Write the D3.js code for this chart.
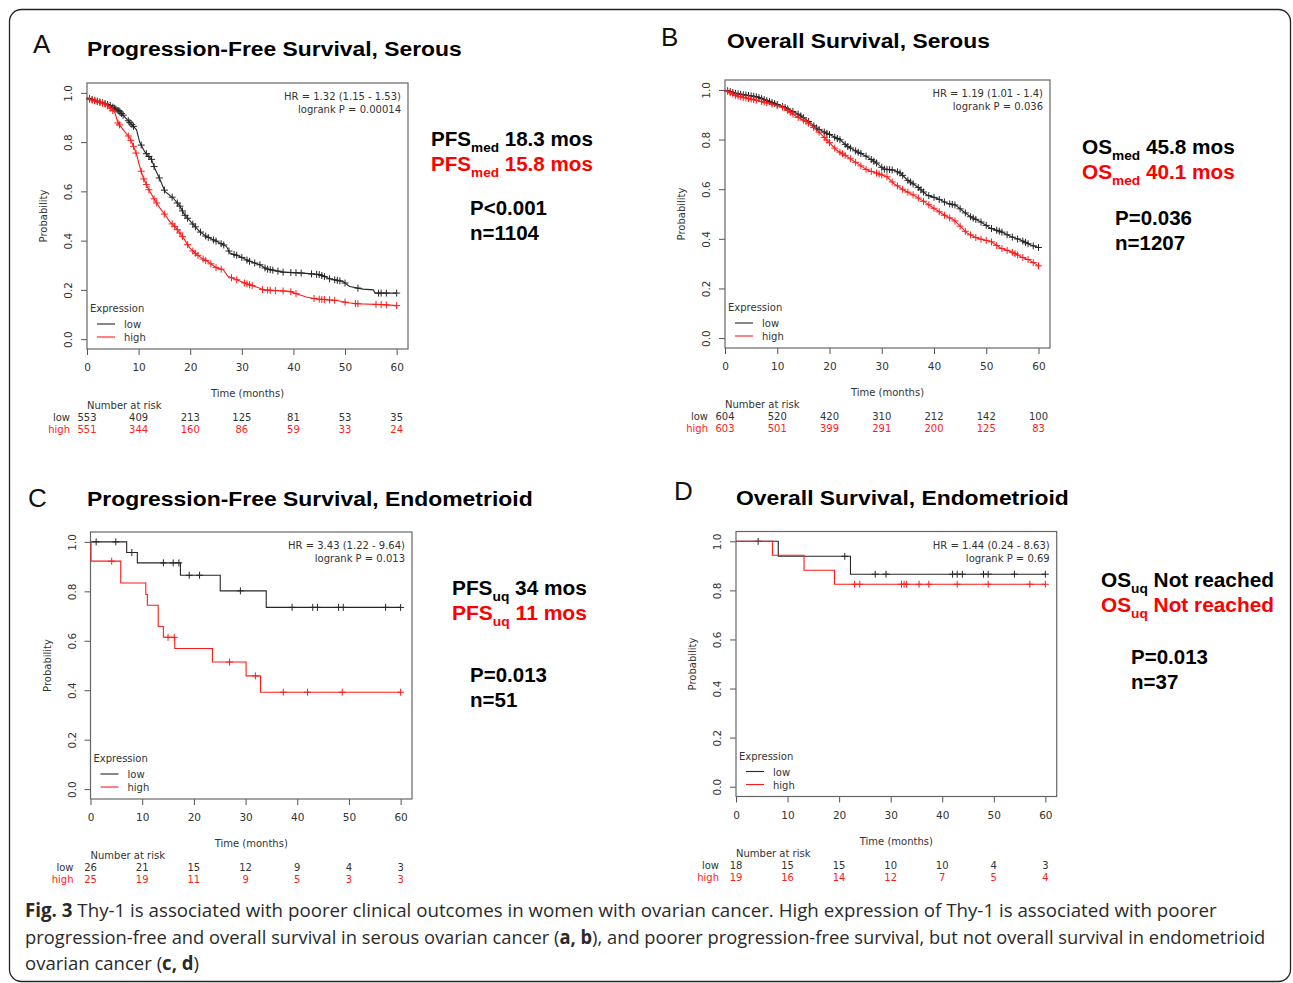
<!DOCTYPE html>
<html>
<head>
<meta charset="utf-8">
<script src="https://cdn.jsdelivr.net/npm/d3@7"></script>
<style>
  body { margin: 0; background: #fff; }
  svg { display: block; }
</style>
</head>
<body>
<svg id="fig"></svg>
<script>
// ---- data ----
const timeTicks = [0, 10, 20, 30, 40, 50, 60];
const probTicks = [0, 0.2, 0.4, 0.6, 0.8, 1.0];

// A: progression-free survival, serous  [months, probability]
const pfsSerousLow = [[0,0.98],[4.4,0.95],[6.3,0.925],[8.3,0.88],[9.6,0.85],[10.2,0.80],[11.2,0.76],[12.5,0.73],[13.1,0.695],[14.1,0.65],[15.1,0.60],[16.7,0.573],[18,0.54],[18.9,0.505],[20.6,0.465],[21.8,0.438],[23.1,0.417],[25.1,0.397],[27,0.377],[27.7,0.35],[29.6,0.336],[31.5,0.316],[33.5,0.302],[34.8,0.285],[38,0.272],[41.9,0.268],[45.1,0.262],[47,0.245],[49.6,0.234],[50.9,0.214],[53.5,0.203],[55.5,0.2],[55.8,0.187],[60,0.187]];
const pfsSerousHigh = [[0,0.977],[3.7,0.953],[5.4,0.92],[6,0.878],[7,0.851],[8.3,0.817],[9,0.783],[9.6,0.75],[10.2,0.702],[10.9,0.655],[11.8,0.614],[13.1,0.566],[14.1,0.533],[15.1,0.505],[16,0.478],[17,0.458],[18,0.431],[18.9,0.404],[19.9,0.37],[20.9,0.35],[22.2,0.329],[23.8,0.309],[25.1,0.289],[26.4,0.282],[27.3,0.255],[29,0.241],[30.9,0.225],[33.5,0.207],[34.1,0.2],[39.3,0.194],[40.6,0.184],[42.5,0.171],[44.5,0.163],[48.4,0.157],[50.3,0.149],[52.2,0.144],[57.4,0.14],[60,0.136]];
const pfsSerousLowCens = [0.5,1,1.5,2,2.5,3,3.5,4,4.5,5,5.3,5.6,6,6.2,6.4,6.7,7,8,8.3,8.7,9,10.5,11.5,12,12.5,13,14,15,16.5,17.5,18,18.5,19,19.5,20.5,21,22,23,23.5,24.5,25,26,26.5,27.5,28.5,29,30,31,31.5,32.5,33.5,34.5,35,35.5,36,37,38,39.5,40.5,41.5,43.5,44.5,45,45.5,46,47,48,48.5,49,50,52.5,56.5,57,58,60];
const pfsSerousHighCens = [0.5,1,1.5,2,2.5,3,3.5,4,4.5,5,6,6.3,8,8.5,9,9.5,10.5,11,11.5,12,13,13.5,15,16.5,17,17.5,18,18.5,19.5,20.5,21,21.5,22.5,23,24,25,26,28,29,30.5,31,31.5,32,34,35,35.5,36.5,38,39.5,40.5,44,45,45.5,46,47,48,50,52,52.5,56,57,58,60];

// B: overall survival, serous
const osSerousLow = [[0,1.0],[2.2,0.985],[6.1,0.972],[8.6,0.952],[11.2,0.932],[13.8,0.905],[15.7,0.878],[17.6,0.845],[20.2,0.818],[22.1,0.798],[23.4,0.773],[25.3,0.751],[27.2,0.731],[29.1,0.704],[30.4,0.681],[32.3,0.677],[33.6,0.664],[34.9,0.637],[36.8,0.61],[38.7,0.576],[40.6,0.563],[42.5,0.543],[44.1,0.536],[45.7,0.509],[47,0.489],[48.9,0.469],[50.9,0.442],[52.8,0.429],[54.7,0.409],[56.6,0.395],[58.5,0.375],[60,0.365]];
const osSerousHigh = [[0,1.0],[2.2,0.976],[6.1,0.958],[8.6,0.945],[11.2,0.929],[13.8,0.891],[15.7,0.871],[17.6,0.838],[19.5,0.798],[21.4,0.757],[23.4,0.731],[25.3,0.704],[27.2,0.677],[29.1,0.664],[31,0.65],[32.3,0.623],[34.2,0.597],[36.1,0.576],[38.1,0.55],[40,0.523],[41.9,0.496],[43.8,0.476],[45.1,0.449],[46.4,0.422],[48.3,0.402],[50.9,0.389],[52.8,0.362],[54.7,0.349],[56.6,0.328],[58.2,0.315],[60,0.291]];
const osSerousLowCens = [0.5,1,1.5,2,2.5,3,3.5,4,4.5,5,5.5,6,6.5,7,7.5,8,8.5,9,9.5,10,11,11.5,12,13,14,14.5,15,16,17,17.5,18,19,19.5,20,21,21.5,22,23,23.5,24,25,25.5,26,27,28,28.5,29,30,30.5,31,31.5,32,33,33.5,34,35,35.5,36,37,37.5,38,39,40,41,42,43,43.5,44,45,46,47,47.5,48,49,50,51,52,52.5,53,54,55,56,57,57.5,58,59,60];
const osSerousHighCens = [0.5,1,1.5,2,2.5,3,3.5,4,4.5,5,5.5,6,7,7.5,8,9,10,11,12,12.5,13,14,15,15.5,16,17,18,19,19.5,20,21,22,22.5,23,24,25,26,27,28,29,29.5,30,31,32,33,34,35,36,37,38,39,40,41,42,43,44,45,46,47,48,49,50,51,52,53,54,55,55.5,56,57,58,59,60];

// C: progression-free survival, endometrioid
const pfsEndoLow = [[0,1.0],[7,0.957],[9.06,0.915],[17.4,0.865],[25.1,0.802],[34,0.735],[60,0.735]];
const pfsEndoHigh = [[0,1.0],[0.1,0.922],[5.85,0.834],[10.7,0.787],[11,0.744],[13.1,0.658],[14.1,0.614],[16.3,0.569],[23.6,0.514],[30.1,0.458],[32.9,0.392],[60,0.392]];
const pfsEndoLowCens = [1.1,4.9,8,14.1,16,17.1,19.1,21.1,29,39,43,43.9,48,48.9,57.1,60];
const pfsEndoHighCens = [4.1,15,16.2,26.9,31.9,37.3,42,48.7,60];

// D: overall survival, endometrioid
const osEndoLow = [[0,1.0],[8.2,0.939],[22.2,0.866],[60,0.866]];
const osEndoHigh = [[0,1.0],[7.07,0.943],[13.2,0.882],[19.1,0.825],[60,0.825]];
const osEndoLowCens = [4.3,21.1,27,29.1,42,42.9,43.9,48,48.9,54,60];
const osEndoHighCens = [23,24,32.1,32.6,33.1,35.5,37.4,42.9,48.9,57,60];

// number at risk at timeTicks
const riskA = { low: [553,409,213,125,81,53,35], high: [551,344,160,86,59,33,24] };
const riskB = { low: [604,520,420,310,212,142,100], high: [603,501,399,291,200,125,83] };
const riskC = { low: [26,21,15,12,9,4,3], high: [25,19,11,9,5,3,3] };
const riskD = { low: [18,15,15,10,10,4,3], high: [19,16,14,12,7,5,4] };

const hrText = ['HR = 1.32 (1.15 - 1.53)', 'HR = 1.19 (1.01 - 1.4)', 'HR = 3.43 (1.22 - 9.64)', 'HR = 1.44 (0.24 - 8.63)'];
const logrankText = ['logrank P = 0.00014', 'logrank P = 0.036', 'logrank P = 0.013', 'logrank P = 0.69'];

const RED = '#ff1a1a';
const DARK = '#262626';
const AXIS_FONT = '"DejaVu Sans", sans-serif';
const BOLD_FONT = '"Liberation Sans", Arial, sans-serif';

const panels = [
  { letter: 'A', title: 'Progression-Free Survival, Serous', lx: 33, ly: 53, tx: 87, ty: 56, tw: 375,
    box: { left: 87, top: 83, width: 321, height: 266 }, step: false,
    low: pfsSerousLow, high: pfsSerousHigh, lowCens: pfsSerousLowCens, highCens: pfsSerousHighCens,
    risk: riskA, hr: hrText[0], lr: logrankText[0],
    stat: { x: 431, y: 146, x2: 470, py: 69, w: 162, name: 'PFS', sub: 'med', low: ' 18.3 mos', high: ' 15.8 mos', p: 'P<0.001', n: 'n=1104' } },
  { letter: 'B', title: 'Overall Survival, Serous', lx: 661, ly: 46, tx: 727, ty: 48, tw: 263,
    box: { left: 725, top: 80, width: 325, height: 268 }, step: false,
    low: osSerousLow, high: osSerousHigh, lowCens: osSerousLowCens, highCens: osSerousHighCens,
    risk: riskB, hr: hrText[1], lr: logrankText[1],
    stat: { x: 1082, y: 154, x2: 1115, py: 71, w: 153, name: 'OS', sub: 'med', low: ' 45.8 mos', high: ' 40.1 mos', p: 'P=0.036', n: 'n=1207' } },
  { letter: 'C', title: 'Progression-Free Survival, Endometrioid', lx: 28, ly: 507, tx: 87, ty: 506, tw: 446,
    box: { left: 90.5, top: 532, width: 321.5, height: 267 }, step: true,
    low: pfsEndoLow, high: pfsEndoHigh, lowCens: pfsEndoLowCens, highCens: pfsEndoHighCens,
    risk: riskC, hr: hrText[2], lr: logrankText[2],
    stat: { x: 452, y: 595, x2: 470, py: 87, w: 135, name: 'PFS', sub: 'uq', low: ' 34 mos', high: ' 11 mos', p: 'P=0.013', n: 'n=51' } },
  { letter: 'D', title: 'Overall Survival, Endometrioid', lx: 674, ly: 500, tx: 736, ty: 505, tw: 333,
    box: { left: 736, top: 531.5, width: 320.7, height: 265 }, step: true,
    low: osEndoLow, high: osEndoHigh, lowCens: osEndoLowCens, highCens: osEndoHighCens,
    risk: riskD, hr: hrText[3], lr: logrankText[3],
    stat: { x: 1101, y: 587, x2: 1131, py: 77, w: 173, name: 'OS', sub: 'uq', low: ' Not reached', high: ' Not reached', p: 'P=0.013', n: 'n=37' } }
];

const svg = d3.select('#fig').attr('width', 1293).attr('height', 983);

// outer frame
svg.append('rect')
  .attr('x', 9.5).attr('y', 9.5)
  .attr('width', 1281).attr('height', 972)
  .attr('rx', 12)
  .attr('fill', 'none')
  .attr('stroke', '#222')
  .attr('stroke-width', 1.3);

// survival value at time t (step or linear between read points)
function survAt(pts, t, step) {
  let i = 0;
  while (i < pts.length - 1 && pts[i + 1][0] <= t) i++;
  if (step || i === pts.length - 1) return pts[i][1];
  const a = pts[i], b = pts[i + 1];
  return a[1] + (b[1] - a[1]) * (t - a[0]) / (b[0] - a[0]);
}

// squeeze a text group horizontally so it spans width w
function fitWidth(sel, x, y, w) {
  const nat = sel.node().getBBox().width;
  sel.attr('transform', `translate(${x},${y}) scale(${w / nat},1)`);
}

function drawPanel(p) {
  const g = svg.append('g');
  const b = p.box;
  const bottom = b.top + b.height;
  const x = d3.scaleLinear().domain([0, 62.2]).range([b.left, b.left + b.width]);
  const y = d3.scaleLinear().domain([-0.04, 1.04]).range([bottom, b.top]);

  // panel letter and title
  g.append('text')
    .attr('x', p.lx).attr('y', p.ly)
    .attr('font-family', BOLD_FONT)
    .attr('font-size', 26)
    .attr('fill', '#111')
    .text(p.letter);
  const title = g.append('text')
    .attr('font-family', BOLD_FONT)
    .attr('font-weight', 'bold')
    .attr('font-size', 21)
    .attr('fill', '#000')
    .text(p.title);
  fitWidth(title, p.tx, p.ty, p.tw);

  // axes
  const ya = g.append('g')
    .attr('transform', `translate(${b.left},0)`)
    .call(d3.axisLeft(y).tickValues(probTicks).tickSize(6).tickFormat(d3.format('.1f')));
  ya.select('.domain').remove();
  ya.attr('color', '#555').attr('font-family', AXIS_FONT).attr('font-size', 10.5);
  ya.selectAll('text')
    .attr('x', 0).attr('dy', 0)
    .attr('text-anchor', 'middle')
    .attr('fill', '#333')
    .attr('transform', 'translate(-15,0) rotate(-90)');

  const xa = g.append('g')
    .attr('transform', `translate(0,${bottom})`)
    .call(d3.axisBottom(x).tickValues(timeTicks).tickSize(6));
  xa.select('.domain').remove();
  xa.attr('color', '#555').attr('font-family', AXIS_FONT).attr('font-size', 10.5);
  xa.selectAll('text').attr('y', 22).attr('dy', 0).attr('fill', '#333');

  // plot frame
  g.append('rect')
    .attr('x', b.left).attr('y', b.top)
    .attr('width', b.width).attr('height', b.height)
    .attr('fill', 'none')
    .attr('stroke', '#666')
    .attr('stroke-width', 1.2);

  // axis titles
  g.append('text')
    .attr('transform', `translate(${b.left - 40},${b.top + b.height / 2}) rotate(-90)`)
    .attr('text-anchor', 'middle')
    .attr('font-family', AXIS_FONT).attr('font-size', 10)
    .attr('fill', '#333')
    .text('Probability');
  g.append('text')
    .attr('x', b.left + b.width / 2).attr('y', bottom + 48)
    .attr('text-anchor', 'middle')
    .attr('font-family', AXIS_FONT).attr('font-size', 10)
    .attr('fill', '#333')
    .text('Time (months)');

  // curves
  const line = d3.line()
    .x(d => x(d[0]))
    .y(d => y(d[1]))
    .curve(p.step ? d3.curveStepAfter : d3.curveLinear);

  const groups = [
    { pts: p.low, cens: p.lowCens, color: DARK },
    { pts: p.high, cens: p.highCens, color: RED }
  ];
  groups.forEach(s => {
    g.append('path')
      .datum(s.pts)
      .attr('d', line)
      .attr('fill', 'none')
      .attr('stroke', s.color)
      .attr('stroke-width', 1.1);
    g.append('g').selectAll('path')
      .data(s.cens)
      .join('path')
      .attr('d', t => {
        const cx = x(t), cy = y(survAt(s.pts, t, p.step));
        return `M${cx - 3.5},${cy}h7M${cx},${cy - 3.5}v7`;
      })
      .attr('stroke', s.color)
      .attr('stroke-width', 1);
  });

  // HR / logrank
  [p.hr, p.lr].forEach((txt, i) => {
    g.append('text')
      .attr('x', b.left + b.width - 7).attr('y', b.top + 17 + i * 13)
      .attr('text-anchor', 'end')
      .attr('font-family', AXIS_FONT).attr('font-size', 10)
      .attr('fill', '#333')
      .text(txt);
  });

  // legend
  g.append('text')
    .attr('x', b.left + 3).attr('y', bottom - 37)
    .attr('font-family', AXIS_FONT).attr('font-size', 10)
    .attr('fill', '#333')
    .text('Expression');
  [['low', DARK], ['high', RED]].forEach(([lab, col], i) => {
    const ly = bottom - 25 + i * 13;
    g.append('line')
      .attr('x1', b.left + 10).attr('x2', b.left + 28)
      .attr('y1', ly).attr('y2', ly)
      .attr('stroke', col).attr('stroke-width', 1.1);
    g.append('text')
      .attr('x', b.left + 37).attr('y', ly + 4)
      .attr('font-family', AXIS_FONT).attr('font-size', 10)
      .attr('fill', '#333')
      .text(lab);
  });

  // number at risk table
  g.append('text')
    .attr('x', b.left).attr('y', bottom + 60)
    .attr('font-family', AXIS_FONT).attr('font-size', 10)
    .attr('fill', '#333')
    .text('Number at risk');
  [['low', p.risk.low, '#333'], ['high', p.risk.high, RED]].forEach(([lab, vals, col], i) => {
    const ry = bottom + 72 + i * 12;
    g.append('text')
      .attr('x', x(0) - 17).attr('y', ry)
      .attr('text-anchor', 'end')
      .attr('font-family', AXIS_FONT).attr('font-size', 10)
      .attr('fill', col)
      .text(lab);
    g.append('g').selectAll('text')
      .data(vals)
      .join('text')
      .attr('x', (d, j) => x(timeTicks[j]))
      .attr('y', ry)
      .attr('text-anchor', 'middle')
      .attr('font-family', AXIS_FONT).attr('font-size', 10)
      .attr('fill', col)
      .text(d => d);
  });

  // median / stats annotation
  const st = p.stat;
  [[st.low, '#000'], [st.high, '#ff0000']].forEach(([val, col], i) => {
    const t = g.append('text')
      .attr('font-family', BOLD_FONT)
      .attr('font-weight', 'bold')
      .attr('font-size', 20.5)
      .attr('fill', col);
    t.append('tspan').text(st.name);
    t.append('tspan').attr('dy', 6).attr('font-size', 13.5).text(st.sub);
    t.append('tspan').attr('dy', -6).text(val);
    fitWidth(t, st.x, st.y + i * 25, st.w);
  });
  [st.p, st.n].forEach((txt, i) => {
    g.append('text')
      .attr('x', st.x2).attr('y', st.y + st.py + i * 25)
      .attr('font-family', BOLD_FONT)
      .attr('font-weight', 'bold')
      .attr('font-size', 20.5)
      .attr('fill', '#000')
      .text(txt);
  });
}

panels.forEach(drawPanel);

// figure caption
const captionLines = [
  { y: 917, w: 1192, parts: [['Fig. 3', true], [' Thy-1 is associated with poorer clinical outcomes in women with ovarian cancer. High expression of Thy-1 is associated with poorer', false]] },
  { y: 944, w: 1241, parts: [['progression-free and overall survival in serous ovarian cancer (', false], ['a, b', true], ['), and poorer progression-free survival, but not overall survival in endometrioid', false]] },
  { y: 970, w: 174, parts: [['ovarian cancer (', false], ['c, d', true], [')', false]] }
];
captionLines.forEach(l => {
  const t = svg.append('text')
    .attr('font-family', '"Open Sans", sans-serif')
    .attr('font-size', 19)
    .attr('fill', '#2a2a2a');
  l.parts.forEach(([s, bold]) => {
    t.append('tspan').attr('font-weight', bold ? 'bold' : 'normal').text(s);
  });
  fitWidth(t, 25, l.y, l.w);
});
</script>
</body>
</html>
